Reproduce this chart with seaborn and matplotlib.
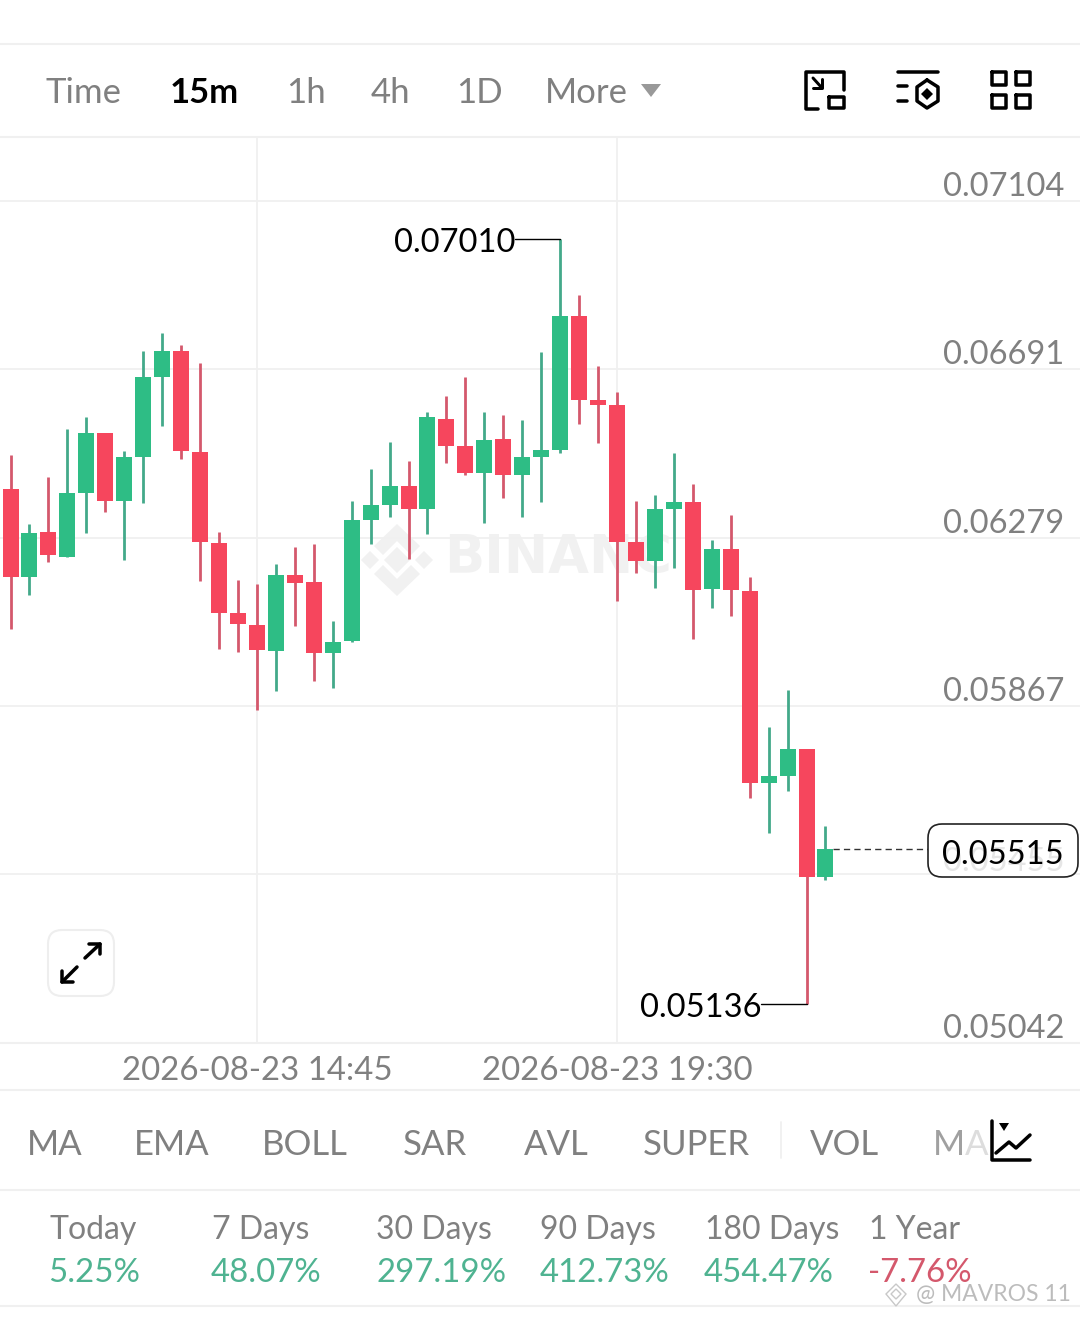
import numpy as np
import pandas as pd
import seaborn as sns
import matplotlib
matplotlib.use("Agg")
import matplotlib.pyplot as plt
from matplotlib.patches import FancyBboxPatch, Polygon

# candles, oldest first
opens = [0.06399, 0.06183, 0.06293, 0.06232, 0.06389, 0.06536, 0.06369, 0.06477, 0.06673, 0.06737, 0.06489,
         0.06266, 0.06095, 0.06066, 0.06002, 0.06188, 0.06171, 0.05997, 0.06026, 0.06323, 0.06359, 0.06406,
         0.06350, 0.06570, 0.06502, 0.06438, 0.06521, 0.06431, 0.06477, 0.06494, 0.06822, 0.06617, 0.06604,
         0.06269, 0.06222, 0.06350, 0.06367, 0.06154, 0.06252, 0.06149, 0.05679, 0.05696, 0.05762, 0.05448]
highs = [0.06480, 0.06313, 0.06428, 0.06546, 0.06575, 0.06536, 0.06492, 0.06737, 0.06781, 0.06751, 0.06707,
         0.06293, 0.06176, 0.06166, 0.06213, 0.06257, 0.06262, 0.06075, 0.06369, 0.06448, 0.06514, 0.06467,
         0.06587, 0.06626, 0.06671, 0.06587, 0.06580, 0.06568, 0.06734, 0.07010, 0.06874, 0.06700, 0.06636,
         0.06369, 0.06384, 0.06487, 0.06411, 0.06274, 0.06335, 0.06183, 0.05816, 0.05906, 0.05762, 0.05573]
lows = [0.06056, 0.06139, 0.06220, 0.06232, 0.06291, 0.06342, 0.06225, 0.06364, 0.06551, 0.06472, 0.06173,
        0.06007, 0.05999, 0.05857, 0.05902, 0.06063, 0.05928, 0.05911, 0.06022, 0.06262, 0.06330, 0.06227,
        0.06288, 0.06462, 0.06433, 0.06315, 0.06377, 0.06330, 0.06367, 0.06487, 0.06558, 0.06511, 0.06124,
        0.06191, 0.06156, 0.06205, 0.06031, 0.06107, 0.06088, 0.05642, 0.05556, 0.05659, 0.05136, 0.05441]
closes = [0.06183, 0.06291, 0.06235, 0.06389, 0.06536, 0.06369, 0.06477, 0.06673, 0.06737, 0.06492, 0.06269,
          0.06093, 0.06068, 0.06004, 0.06188, 0.06168, 0.05997, 0.06024, 0.06323, 0.06359, 0.06406, 0.06350,
          0.06573, 0.06502, 0.06438, 0.06519, 0.06431, 0.06477, 0.06494, 0.06822, 0.06617, 0.06604, 0.06269,
          0.06222, 0.06350, 0.06367, 0.06151, 0.06252, 0.06151, 0.05679, 0.05696, 0.05762, 0.05448, 0.05515]

price_ticks = [0.07104, 0.06691, 0.06279, 0.05867, 0.05455, 0.05042]
price_labels = ["0.07104", "0.06691", "0.06279", "0.05867", "", "0.05042"]
time_ticks = [13, 32]
time_labels = ["2026-08-23 14:45", "2026-08-23 19:30"]

intervals = ["Time", "15m", "1h", "4h", "1D", "More"]
indicators = ["MA", "EMA", "BOLL", "SAR", "AVL", "SUPER", "VOL"]
periods = ["Today", "7 Days", "30 Days", "90 Days", "180 Days", "1 Year"]
changes = ["5.25%", "48.07%", "297.19%", "412.73%", "454.47%", "-7.76%"]

RED = "#F6465D"
GREEN = "#2EBD85"
RED_WICK = "#D4586C"
GREEN_WICK = "#43A98A"
GREY = "#808080"
LINE = "#F0F0F0"
FONT = "Lato"

sns.set_theme(style="white")
plt.rcParams["font.family"] = [FONT, "DejaVu Sans"]

W, H = 1080, 1318
fig = plt.figure(figsize=(W / 100, H / 100), dpi=100, facecolor="white")


def pixel_axes(z):
    a = fig.add_axes([0, 0, 1, 1], zorder=z)
    a.set_xlim(0, W)
    a.set_ylim(H, 0)
    a.axis("off")
    return a


def lines(a, pts, lw=3.0, color="black"):
    xs, ys = zip(*pts)
    a.plot(xs, ys, color=color, lw=lw * 0.72, solid_capstyle="round", solid_joinstyle="round")


bg = pixel_axes(0)
ui = pixel_axes(2)

# watermark under the candles
wm = "#F1F1F1"
for pts in [[(397, 547), (410, 560), (397, 573), (384, 560)],
            [(370, 551), (379, 560), (370, 569), (361, 560)],
            [(424, 551), (433, 560), (424, 569), (415, 560)],
            [(397, 524), (420, 546), (411, 555), (397, 541), (383, 555), (374, 546)],
            [(397, 596), (420, 574), (411, 565), (397, 579), (383, 565), (374, 574)]]:
    bg.add_patch(Polygon(pts, closed=True, fc=wm, ec="none"))
bg.text(444, 558, "BINANC", fontsize=38, fontweight="bold", family="DejaVu Sans", color=wm, va="center", ha="left")

# price chart
ax = fig.add_axes([0, 1 - 1043 / H, 1, (1043 - 137) / H], zorder=1)
ax.patch.set_alpha(0)

df = pd.DataFrame({"candle": np.arange(len(opens)), "open": opens, "high": highs, "low": lows, "close": closes})
df["up"] = df["close"] >= df["open"]
df["body"] = (df["close"] - df["open"]).abs()
df["base"] = df[["open", "close"]].min(axis=1)

ax.vlines(df["candle"], df["low"], df["high"], colors=[GREEN_WICK if u else RED_WICK for u in df["up"]],
          lw=2.0, zorder=2)
sns.barplot(data=df, x="candle", y="body", bottom=df["base"].values, width=0.845, errorbar=None,
            color=GREEN, saturation=1, linewidth=0, ax=ax, zorder=3)
for patch, up in zip(ax.patches, df["up"]):
    patch.set_facecolor(GREEN if up else RED)

ax.set_xlim(-0.555, 56.43)
ax.set_ylim(0.05041, 0.07260)
ax.set_yticks(price_ticks)
ax.set_yticklabels([])
ax.set_xticks(time_ticks)
ax.set_xticklabels(time_labels, fontsize=23.8, color=GREY)
ax.set_xlabel("")
ax.set_ylabel("")
ax.tick_params(axis="both", length=0)
ax.tick_params(axis="x", pad=9)
ax.grid(True, color=LINE, lw=1.3, zorder=0)
ax.set_axisbelow(True)
sns.despine(ax=ax, left=True, bottom=True)

for v, s in zip(price_ticks, price_labels):
    ax.annotate(s, xy=(1, v), xycoords=ax.get_yaxis_transform(), xytext=(-16, -1), textcoords="offset pixels",
                ha="right", va="bottom", fontsize=23.5, color=GREY)

# high and low markers
hi = int(df["high"].idxmax())
lo = int(df["low"].idxmin())
ax.plot([hi - 2.38, hi], [highs[hi]] * 2, color="black", lw=1.0, zorder=4)
ax.plot([lo - 2.38, lo], [lows[lo]] * 2, color="black", lw=1.0, zorder=4)
ax.annotate("%.5f" % highs[hi], xy=(hi - 2.38, highs[hi]), xytext=(0, -4), textcoords="offset pixels",
            ha="right", va="center", fontsize=23.5, color="black")
ax.annotate("%.5f" % lows[lo], xy=(lo - 2.38, lows[lo]), xytext=(0, -4), textcoords="offset pixels",
            ha="right", va="center", fontsize=23.5, color="black")

# last price
ax.plot([len(closes) - 0.6, 48.45], [closes[-1]] * 2, color="#333333", lw=1.0, ls=(0, (4.5, 3)), zorder=4)
ui.add_patch(FancyBboxPatch((928, 824), 150, 53, boxstyle="round,pad=0,rounding_size=14", fc="white", ec="#222222",
                            lw=1.2))
ui.text(1064, 862, "0.05455", ha="right", va="center", fontsize=23.5, color="#E6E6E6")
ui.text(1064, 855, "%.5f" % closes[-1], ha="right", va="center", fontsize=23.5, color="black")

# frame lines of the app
for y in [44, 137, 1043, 1090, 1190, 1306]:
    bg.plot([0, W], [y, y], color=LINE, lw=1.5)
ui.plot([781, 781], [1122, 1158], color=LINE, lw=1.3)

# interval row
for x, s in zip([46, 170, 286, 371, 456, 545], intervals):
    if s == "15m":
        ui.text(x, 93, s, fontsize=25, color="black", fontweight="bold", va="center")
    else:
        ui.text(x, 93, s, fontsize=25, color=GREY, va="center")
ui.add_patch(Polygon([(641, 84), (661, 84), (651, 97)], closed=True, fc="#999999", ec="none"))

# icon 1
lines(ui, [(844, 90), (844, 72), (806, 72), (806, 109), (818, 109)], 3.5)
lines(ui, [(829, 97), (844, 97), (844, 108), (829, 108), (829, 97)], 3.5)
lines(ui, [(813, 78), (822, 88)], 3)
lines(ui, [(822, 79), (822, 88), (813, 88)], 3)
# icon 2
lines(ui, [(898, 72), (938, 72)], 3.5)
lines(ui, [(898, 86), (907, 86)], 3.5)
lines(ui, [(898, 101), (907, 101)], 3.5)
lines(ui, [(927, 80), (938, 87), (938, 101), (927, 108), (917, 101), (917, 87), (927, 80)], 3.5)
ui.add_patch(Polygon([(927, 88), (933, 94), (927, 100), (921, 94)], closed=True, fc="black", ec="none"))
# icon 3
for x0 in [992, 1016]:
    for y0 in [72, 95]:
        lines(ui, [(x0, y0), (x0 + 14, y0), (x0 + 14, y0 + 13), (x0, y0 + 13), (x0, y0)], 3.5)

# expand button
ui.add_patch(FancyBboxPatch((48, 930), 66, 66, boxstyle="round,pad=0,rounding_size=14", fc="white", ec="#EEEEEE",
                            lw=1.5))
lines(ui, [(85, 958), (100, 944)], 3.5)
lines(ui, [(89, 944), (100, 944), (100, 954)], 3.5)
lines(ui, [(77, 967), (62, 982)], 3.5)
lines(ui, [(62, 971), (62, 982), (73, 982)], 3.5)

# indicator row
for x, s in zip([27, 134, 262, 403, 524, 643, 810], indicators):
    ui.text(x, 1145, s, fontsize=25, color=GREY, va="center")
ui.text(933, 1145, "M", fontsize=25, color="#A0A0A0", va="center")
ui.text(965, 1145, "A", fontsize=25, color="#DDDDDD", va="center")
lines(ui, [(992, 1121), (992, 1160), (1030, 1160)], 3.5)
lines(ui, [(996, 1153), (1009, 1142), (1016, 1148), (1030, 1135)], 3.5)
ui.add_patch(Polygon([(999, 1123), (1009, 1123), (1004, 1131)], closed=True, fc="black", ec="none"))

# period row
for x, s in zip([49, 212, 376, 540, 705, 869], periods):
    ui.text(x, 1230, s, fontsize=23, color=GREY, va="center")
for x, s in zip([48, 211, 376, 540, 704, 868], changes):
    c = "#D4586C" if s.startswith("-") else "#4FB391"
    ui.text(x, 1273, s, fontsize=23.8, color=c, va="center")

# author mark
for pts in [[(896, 1284), (906, 1294), (896, 1306), (886, 1294)], [(896, 1289), (901, 1294), (896, 1299), (891, 1294)]]:
    ui.add_patch(Polygon(pts, closed=True, fc="none", ec="#C8C8C8", lw=1))
ui.text(916, 1295, "@ MAVROS 11", fontsize=16.5, color="#B5B5B5", va="center", alpha=0.9)

fig.savefig("out.png", dpi=100)
